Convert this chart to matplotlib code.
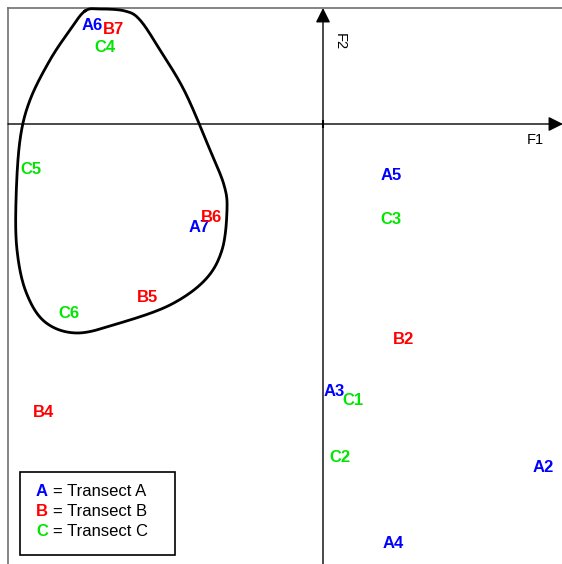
import numpy as np
import matplotlib
matplotlib.use("Agg")
import matplotlib.pyplot as plt

# ---- data (F1, F2 scores) ----
labels = ["A2", "A3", "A4", "A5", "A6", "A7",
          "B2", "B4", "B5", "B6", "B7",
          "C1", "C2", "C3", "C4", "C5", "C6"]
f1 = [2.20, 0.11, 0.70, 0.68, -2.31, -1.24,
      0.81, -2.80, -1.75, -1.11, -2.09,
      0.30, 0.17, 0.68, -2.18, -2.92, -2.54]
f2 = [-3.44, -2.68, -4.19, -0.51, 0.99, -1.03,
      -2.16, -2.89, -1.74, -0.93, 0.94,
      -2.77, -3.34, -0.95, 0.77, -0.46, -1.89]

# hand-drawn group outline (F1, F2)
outline_f1 = [-2.38, -2.23, -1.98, -1.83, -1.63, -1.38, -1.13, -0.99, -0.96,
              -1.01, -1.18, -1.53, -2.03, -2.46, -2.78, -2.97, -3.06, -3.07,
              -3.03, -2.93, -2.73, -2.53]
outline_f2 = [1.13, 1.15, 1.13, 1.04, 0.74, 0.32, -0.26, -0.61, -0.86,
              -1.26, -1.56, -1.81, -1.99, -2.09, -1.98, -1.68, -1.26, -0.76,
              -0.16, 0.24, 0.64, 0.94]

legend_keys = ["A", "B", "C"]
legend_names = ["Transect A", "Transect B", "Transect C"]
colors = {"A": "#0000ff", "B": "#ff0000", "C": "#00e600"}

fig = plt.figure(figsize=(5.62, 5.64), dpi=100)
ax = fig.add_axes([0, 0, 1, 1])
ax.set_xlim(-3.23, 2.39)
ax.set_ylim(-4.40, 1.24)
ax.axis("off")

# frame (left and top only visible)
ax.plot([-3.15, -3.15], [-4.40, 1.16], color="#707070", lw=1.2)
ax.plot([-3.15, 2.39], [1.16, 1.16], color="#707070", lw=1.2)

# axes with arrows
ax.annotate("", xy=(2.40, 0), xytext=(-3.15, 0), annotation_clip=False,
            arrowprops=dict(arrowstyle="-|>", color="k", lw=1,
                            mutation_scale=22, shrinkA=0, shrinkB=0))
ax.annotate("", xy=(0, 1.16), xytext=(0, -4.40), annotation_clip=False,
            arrowprops=dict(arrowstyle="-|>", color="k", lw=1,
                            mutation_scale=22, shrinkA=0, shrinkB=0))
ax.plot([0, 0], [-0.03, 0.03], color="k", lw=1.5)
ax.text(2.12, -0.16, "F1", fontsize=10.5, family="Liberation Sans",
        ha="center", va="center")
ax.text(0.17, 0.82, "F2", fontsize=10.5, family="Liberation Sans",
        ha="center", va="center", rotation=-90)

# smooth closed outline (periodic Catmull-Rom)
P = np.column_stack([outline_f1, outline_f2])
n = len(P)
pts = []
for i in range(n):
    p0, p1, p2, p3 = P[(i - 1) % n], P[i], P[(i + 1) % n], P[(i + 2) % n]
    for t in np.linspace(0, 1, 20, endpoint=False):
        t2, t3 = t * t, t * t * t
        pts.append(0.5 * ((2 * p1) + (-p0 + p2) * t
                          + (2 * p0 - 5 * p1 + 4 * p2 - p3) * t2
                          + (-p0 + 3 * p1 - 3 * p2 + p3) * t3))
pts.append(pts[0])
pts = np.array(pts)
ax.plot(pts[:, 0], pts[:, 1], color="k", lw=2)

# point labels
for lab, x, y in zip(labels, f1, f2):
    ax.text(x, y, lab, color=colors[lab[0]], fontsize=12, fontweight="bold",
            family="Liberation Sans", ha="center", va="center")

# legend box
ax.add_patch(plt.Rectangle((-3.03, -4.31), 1.55, 0.83, fill=False,
                           edgecolor="k", lw=1.2))
for i, (k, nm) in enumerate(zip(legend_keys, legend_names)):
    yy = -3.68 - i * 0.197
    ax.text(-2.81, yy, k, color=colors[k], fontsize=12, fontweight="bold",
            family="Liberation Sans", ha="center", va="center")
    ax.text(-2.70, yy, "= " + nm, color="k", fontsize=12,
            family="Liberation Sans", ha="left", va="center")

fig.savefig("out.png", dpi=100)
